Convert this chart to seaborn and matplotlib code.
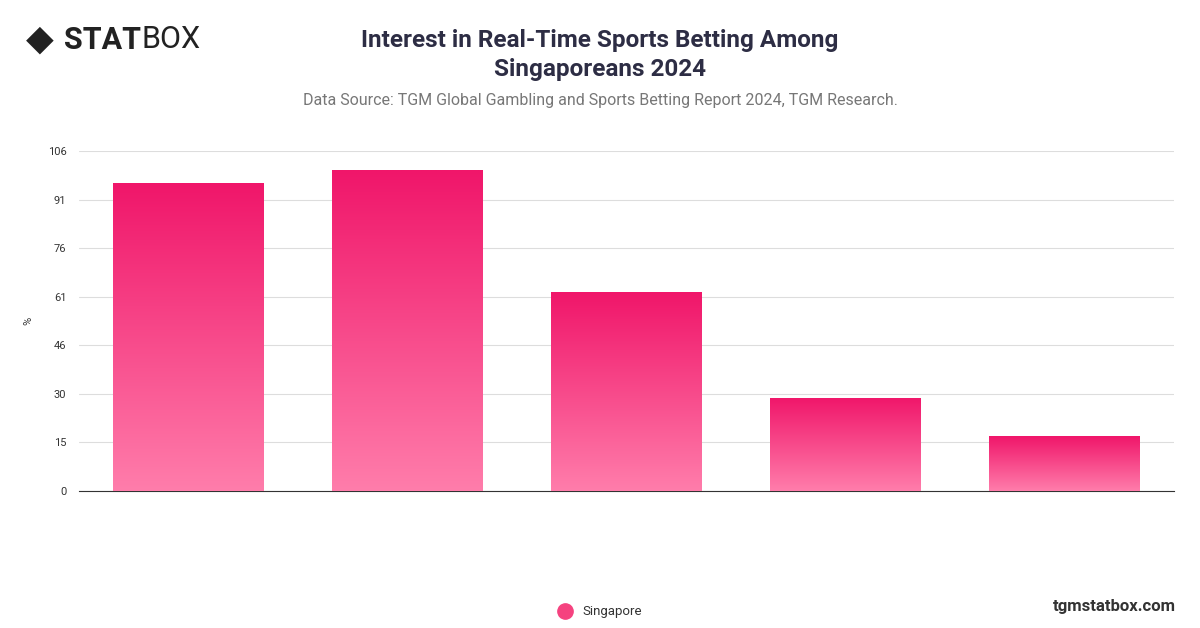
import numpy as np
import pandas as pd
import matplotlib
matplotlib.use("Agg")
import matplotlib.pyplot as plt
import seaborn as sns
from matplotlib.colors import LinearSegmentedColormap
from matplotlib.lines import Line2D

categories = ["A", "B", "C", "D", "E"]
values = [96, 100, 62, 29, 17]
tick_values = [0, 106/7, 212/7, 318/7, 424/7, 530/7, 636/7, 106]
tick_labels = ["0", "15", "30", "46", "61", "76", "91", "106"]
series_name = "Singapore"

sns.set_theme(style="white")
plt.rcParams['font.family'] = ['Roboto', 'DejaVu Sans']

fig = plt.figure(figsize=(12, 6.28), dpi=100)
ax = fig.add_axes([79/1200, 1-491/628, 1095/1200, 340/628])
df = pd.DataFrame({"cat": categories, "val": values})
sns.barplot(data=df, x="cat", y="val", ax=ax, color="#F0166A", width=0.685, saturation=1)

cmap = LinearSegmentedColormap.from_list("g", ["#FF7DAB", "#F0166A"])
grad = np.linspace(0, 1, 256).reshape(-1, 1)
for p in list(ax.patches):
    x0, w, h = p.get_x(), p.get_width(), p.get_height()
    im = ax.imshow(grad, extent=[x0, x0+w, 0, h], origin="lower", cmap=cmap, aspect="auto", zorder=3)
    im.set_clip_path(p)
    p.set_alpha(0)
ax.set_xlim(-0.5, 4.5)
ax.set_ylim(0, 106)

ax.set_yticks(tick_values)
ax.set_yticklabels(tick_labels, fontsize=8, color="#333333")
ax.set_xticks([])
ax.set_xlabel("")
ax.set_ylabel("")
fig.text(28/1200, 1-321/628, "%", fontsize=8, color="#333333", rotation=90, ha="center", va="center")
ax.grid(axis="y", color="#DDDDDD", linewidth=0.8)
ax.set_axisbelow(True)
for s in ["top", "right", "left"]:
    ax.spines[s].set_visible(False)
ax.spines["bottom"].set_color("#333333")
ax.spines["bottom"].set_linewidth(0.8)
ax.tick_params(axis="y", length=0, pad=9)

fig.text(0.5, 1-55/628, "Interest in Real-Time Sports Betting Among\nSingaporeans 2024",
         ha="center", va="center", fontsize=17.5, fontweight="bold", color="#2D2D44", linespacing=1.3)
fig.text(0.5, 1-101/628, "Data Source: TGM Global Gambling and Sports Betting Report 2024, TGM Research.",
         ha="center", va="center", fontsize=11.5, color="#777777")
fig.text(26/1200, 1-40/628, "◆", fontsize=26, fontweight="bold", color="#222222", va="center", ha="left")
fig.text(64/1200, 1-40/628, "STAT", fontsize=22, fontweight="bold", color="#222222", va="center", ha="left")
fig.text(141/1200, 1-40/628, "BOX", fontsize=22, color="#222222", va="center", ha="left")
fig.text(1176/1200, 1-606/628, "tgmstatbox.com", fontsize=12, fontweight="bold", color="#333333", ha="right", va="center")
fig.add_artist(Line2D([565/1200], [1-611/628], marker="o", markersize=11, color="#F5427F",
                      transform=fig.transFigure))
fig.text(582/1200, 1-611/628, series_name, fontsize=9.5, color="#333333", va="center")

fig.savefig("out.png", dpi=100)
